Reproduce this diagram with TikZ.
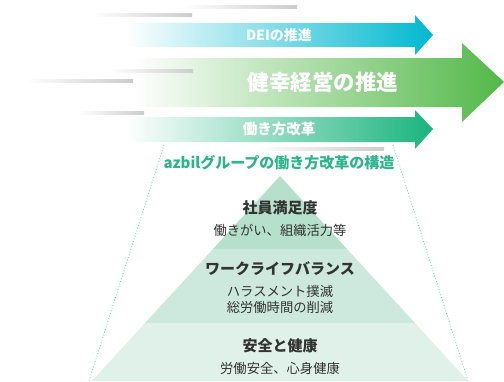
\documentclass[tikz,border=0pt]{standalone}
\usepackage{fontspec}
\setmainfont{Noto Sans CJK JP}
\usepackage{tikz}
\usetikzlibrary{shapes.geometric, arrows.meta, positioning, calc}

\definecolor{deicyan}{HTML}{00B8D0}
\definecolor{kenkogreen}{HTML}{52B848}
\definecolor{workgreen}{HTML}{1AB47E}
\definecolor{titlegreen}{HTML}{2BB58A}
\definecolor{tiertop}{HTML}{B5E0CC}
\definecolor{tiermid}{HTML}{CDE9DD}
\definecolor{tierbot}{HTML}{E0F1E9}
\definecolor{textgray}{HTML}{333333}

\begin{document}
\begin{tikzpicture}[x=1pt, y=-1pt,
    speedline/.style={left color=white, right color=black!20},
    arrowlabel/.style={text=white, inner sep=0pt},
    tiertitle/.style={text=textgray, inner sep=0pt, font=\fontsize{15}{17}\selectfont\bfseries},
    tiertext/.style={text=textgray, inner sep=0pt, align=center, font=\fontsize{13.3}{15.5}\selectfont}]
        \useasboundingbox (0,0) rectangle (504,381);

        % Arrows (fading in from the left)
        \shade[left color=white, middle color=deicyan!55, right color=deicyan]
            (125,23) -- (415,23) -- (415,15) -- (433,35) -- (415,55) -- (415,47) -- (125,47) -- cycle;
        \shade[left color=white, middle color=kenkogreen!60, right color=kenkogreen]
            (133,58) -- (462,58) -- (462,43) -- (504,82) -- (462,122) -- (462,107) -- (133,107) -- cycle;
        \shade[left color=white, middle color=workgreen!60, right color=workgreen]
            (125,117) -- (415,117) -- (415,110) -- (433,129) -- (415,149) -- (415,142) -- (125,142) -- cycle;

        % Speed lines
        \shade[speedline] (183,5) rectangle (297,8);
        \shade[speedline] (92,13) rectangle (192,16);
        \shade[speedline] (110,69) rectangle (193,72);
        \shade[speedline] (25,79) rectangle (133,82);
        \shade[speedline] (78,111) rectangle (144,114);
        \shade[speedline] (253,147) rectangle (384,150);

        \node[arrowlabel, font=\fontsize{14}{16}\selectfont\bfseries] (dei) at (279,35) {DEIの推進};
        \node[arrowlabel, font=\fontsize{21.5}{24}\selectfont\bfseries] (kenko) at (323,82) {健幸経営の推進};
        \node[arrowlabel, font=\fontsize{14.5}{16}\selectfont\bfseries] (work) at (279,129) {働き方改革};

        % Dotted guide lines
        \draw[titlegreen!70, dotted, line width=0.8pt] (164,145) -- (89,381);
        \draw[titlegreen!70, dotted, line width=0.8pt] (393,145) -- (468,381);
        \node[text=titlegreen, inner sep=0pt, font=\fontsize{15}{17}\selectfont\bfseries] (structure) at (279,163) {azbilグループの働き方改革の構造};

        % Pyramid tiers
        \fill[tiertop] (280,176) -- (347,249) -- (213,249) -- cycle;
        \fill[tiermid] (213,249) -- (347,249) -- (415,323) -- (145,323) -- cycle;
        \fill[tierbot] (145,323) -- (415,323) -- (468,381) -- (92,381) -- cycle;

        \node[tiertitle] (satisfaction) at (280,208) {社員満足度};
        \node[tiertext] (satisfactionsub) at (280,230) {働きがい、組織活力等};
        \node[tiertitle] (balance) at (280,269) {ワークライフバランス};
        \node[tiertext] (balancesub) at (280,299.5) {ハラスメント撲滅\\総労働時間の削減};
        \node[tiertitle] (health) at (280,346) {安全と健康};
        \node[tiertext] (healthsub) at (280,368) {労働安全、心身健康};
    \end{tikzpicture}
\end{document}
